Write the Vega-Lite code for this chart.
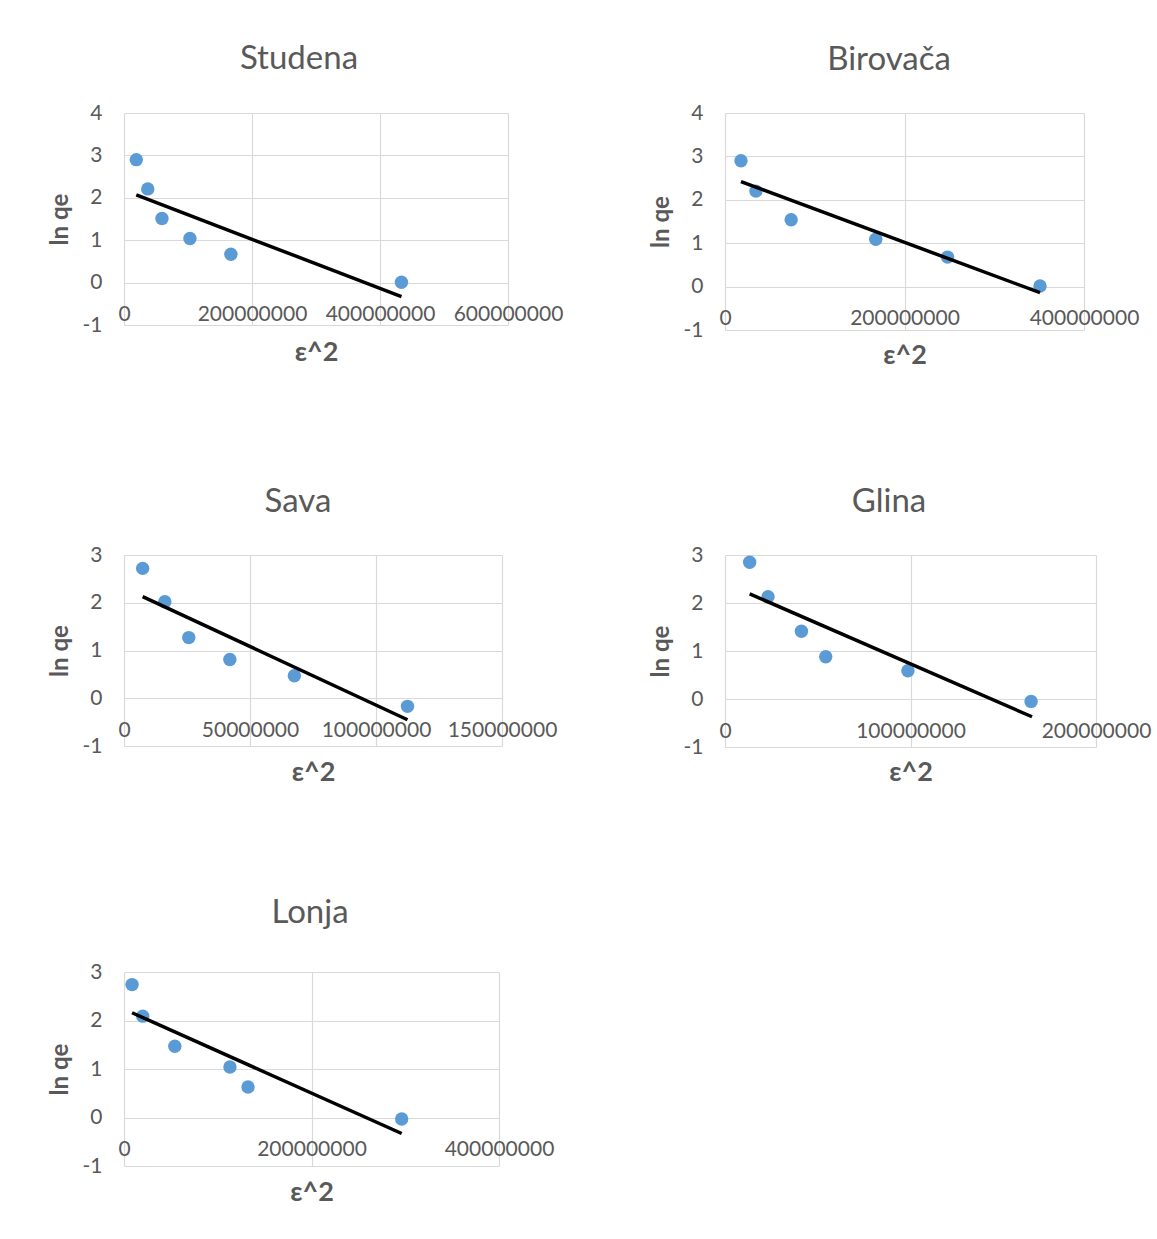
{
  "$schema": "https://vega.github.io/schema/vega-lite/v6.json",
  "background": "white",
  "padding": {"left": 48, "top": 43, "right": 5, "bottom": 5},
  "columns": 2,
  "spacing": {"row": 225, "column": 217},
  "bounds": "flush",
  "align": {"row": "each", "column": "none"},
  "concat": [
    {
      "width": 384, "height": 212,
      "title": {"text": "Studena", "dx": -17, "offset": 26},
      "encoding": {
        "x": {"field": "e2", "type": "quantitative", "title": "ε^2",
              "scale": {"domain": [0, 600000000], "nice": false, "zero": false},
              "axis": {"values": [0, 200000000, 400000000, 600000000], "offset": -42.5, "titleY": 69.5, "labelExpr": "'' + datum.value"}},
        "y": {"field": "lnqe", "type": "quantitative", "title": "ln qe",
              "scale": {"domain": [-1, 4], "nice": false, "zero": false},
              "axis": {"values": [-1, 0, 1, 2, 3, 4], "labelExpr": "'' + datum.value"}}
      },
      "layer": [
        {"data": {"values": [
          {"e2": 19200000, "lnqe": 2.90},
          {"e2": 37100000, "lnqe": 2.21},
          {"e2": 59300000, "lnqe": 1.51},
          {"e2": 103000000, "lnqe": 1.04},
          {"e2": 167000000, "lnqe": 0.67},
          {"e2": 433500000, "lnqe": 0.01}
        ]}, "mark": {"type": "circle", "size": 180, "color": "#5B9BD5", "opacity": 1}},
        {"data": {"values": [
          {"e2": 19200000, "lnqe": 2.07},
          {"e2": 433500000, "lnqe": -0.33}
        ]}, "mark": {"type": "line", "color": "#000000", "strokeWidth": 3.5}}
      ]
    },
    {
      "width": 359, "height": 217,
      "title": {"text": "Birovača", "dx": -15.5, "offset": 25},
      "encoding": {
        "x": {"field": "e2", "type": "quantitative", "title": "ε^2",
              "scale": {"domain": [0, 400000000], "nice": false, "zero": false},
              "axis": {"values": [0, 200000000, 400000000], "offset": -43.4, "titleY": 68.4, "labelExpr": "'' + datum.value"}},
        "y": {"field": "lnqe", "type": "quantitative", "title": "ln qe",
              "scale": {"domain": [-1, 4], "nice": false, "zero": false},
              "axis": {"values": [-1, 0, 1, 2, 3, 4], "labelExpr": "'' + datum.value"}}
      },
      "layer": [
        {"data": {"values": [
          {"e2": 17800000, "lnqe": 2.90},
          {"e2": 34500000, "lnqe": 2.20},
          {"e2": 73700000, "lnqe": 1.54},
          {"e2": 168000000, "lnqe": 1.09},
          {"e2": 248000000, "lnqe": 0.68},
          {"e2": 351000000, "lnqe": 0.015}
        ]}, "mark": {"type": "circle", "size": 180, "color": "#5B9BD5", "opacity": 1}},
        {"data": {"values": [
          {"e2": 17800000, "lnqe": 2.42},
          {"e2": 351000000, "lnqe": -0.14}
        ]}, "mark": {"type": "line", "color": "#000000", "strokeWidth": 3.5}}
      ]
    },
    {
      "width": 378, "height": 191,
      "title": {"text": "Sava", "dx": -15, "offset": 25},
      "encoding": {
        "x": {"field": "e2", "type": "quantitative", "title": "ε^2",
              "scale": {"domain": [0, 150000000], "nice": false, "zero": false},
              "axis": {"values": [0, 50000000, 100000000, 150000000], "offset": -47.75, "titleY": 73.75, "labelExpr": "'' + datum.value"}},
        "y": {"field": "lnqe", "type": "quantitative", "title": "ln qe",
              "scale": {"domain": [-1, 3], "nice": false, "zero": false},
              "axis": {"values": [-1, 0, 1, 2, 3], "labelExpr": "'' + datum.value"}}
      },
      "layer": [
        {"data": {"values": [
          {"e2": 7400000, "lnqe": 2.72},
          {"e2": 16200000, "lnqe": 2.02},
          {"e2": 25700000, "lnqe": 1.27},
          {"e2": 42000000, "lnqe": 0.81},
          {"e2": 67600000, "lnqe": 0.47},
          {"e2": 112500000, "lnqe": -0.17}
        ]}, "mark": {"type": "circle", "size": 180, "color": "#5B9BD5", "opacity": 1}},
        {"data": {"values": [
          {"e2": 7400000, "lnqe": 2.13},
          {"e2": 112500000, "lnqe": -0.45}
        ]}, "mark": {"type": "line", "color": "#000000", "strokeWidth": 3.5}}
      ]
    },
    {
      "width": 371, "height": 192,
      "title": {"text": "Glina", "dx": -21.5, "offset": 25},
      "encoding": {
        "x": {"field": "e2", "type": "quantitative", "title": "ε^2",
              "scale": {"domain": [0, 200000000], "nice": false, "zero": false},
              "axis": {"values": [0, 100000000, 200000000], "offset": -48, "titleY": 73, "labelExpr": "'' + datum.value"}},
        "y": {"field": "lnqe", "type": "quantitative", "title": "ln qe",
              "scale": {"domain": [-1, 3], "nice": false, "zero": false},
              "axis": {"values": [-1, 0, 1, 2, 3], "labelExpr": "'' + datum.value"}}
      },
      "layer": [
        {"data": {"values": [
          {"e2": 13300000, "lnqe": 2.85},
          {"e2": 23200000, "lnqe": 2.13},
          {"e2": 41200000, "lnqe": 1.41},
          {"e2": 54300000, "lnqe": 0.88},
          {"e2": 98600000, "lnqe": 0.59},
          {"e2": 165000000, "lnqe": -0.05}
        ]}, "mark": {"type": "circle", "size": 180, "color": "#5B9BD5", "opacity": 1}},
        {"data": {"values": [
          {"e2": 13300000, "lnqe": 2.19},
          {"e2": 165500000, "lnqe": -0.37}
        ]}, "mark": {"type": "line", "color": "#000000", "strokeWidth": 3.5}}
      ]
    },
    {
      "width": 375, "height": 194,
      "title": {"text": "Lonja", "dx": -1.5, "offset": 31},
      "encoding": {
        "x": {"field": "e2", "type": "quantitative", "title": "ε^2",
              "scale": {"domain": [0, 400000000], "nice": false, "zero": false},
              "axis": {"values": [0, 200000000, 400000000], "offset": -48.5, "titleY": 74.5, "labelExpr": "'' + datum.value"}},
        "y": {"field": "lnqe", "type": "quantitative", "title": "ln qe",
              "scale": {"domain": [-1, 3], "nice": false, "zero": false},
              "axis": {"values": [-1, 0, 1, 2, 3], "labelExpr": "'' + datum.value"}}
      },
      "layer": [
        {"data": {"values": [
          {"e2": 8600000, "lnqe": 2.74},
          {"e2": 20000000, "lnqe": 2.09},
          {"e2": 54200000, "lnqe": 1.47},
          {"e2": 113000000, "lnqe": 1.04},
          {"e2": 132300000, "lnqe": 0.63},
          {"e2": 296200000, "lnqe": -0.03}
        ]}, "mark": {"type": "circle", "size": 180, "color": "#5B9BD5", "opacity": 1}},
        {"data": {"values": [
          {"e2": 8600000, "lnqe": 2.16},
          {"e2": 296200000, "lnqe": -0.33}
        ]}, "mark": {"type": "line", "color": "#000000", "strokeWidth": 3.5}}
      ]
    }
  ],
  "config": {
    "font": "Lato",
    "view": {"stroke": null},
    "axis": {
      "grid": true, "gridColor": "#d9d9d9", "gridWidth": 1.2,
      "domain": false, "ticks": false,
      "labelColor": "#595959", "labelFontSize": 21, "labelFont": "Lato",
      "labelOverlap": false, "labelFlush": false, "labelBound": false,
      "titleColor": "#595959", "titleFont": "Lato", "titleFontWeight": "bold"
    },
    "axisX": {"labelPadding": 21, "titleFontSize": 27, "titleBaseline": "middle"},
    "axisY": {"labelPadding": 22, "titleFontSize": 24, "titleX": -64, "titleBaseline": "middle"},
    "title": {"fontSize": 33, "fontWeight": "normal", "color": "#595959", "font": "Lato", "baseline": "alphabetic", "anchor": "middle", "frame": "group"}
  }
}
